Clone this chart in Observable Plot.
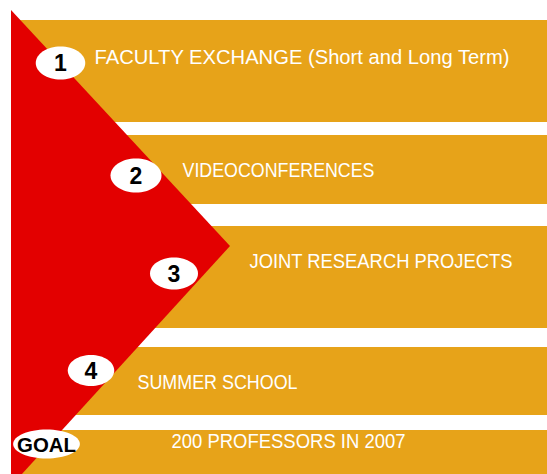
<!DOCTYPE html>
<html>
<head>
<meta charset="utf-8">
<script src="https://cdn.jsdelivr.net/npm/d3@7"></script>
<script src="https://cdn.jsdelivr.net/npm/@observablehq/plot@0.6"></script>
<style>
  html, body { margin: 0; padding: 0; background: #fff; }
  svg { display: block; }
</style>
</head>
<body>
<div id="chart"></div>
<script>
// ---- data ----
const steps = ["1", "2", "3", "4", "GOAL"];
const labels = [
  "FACULTY EXCHANGE (Short and Long Term)",
  "VIDEOCONFERENCES",
  "JOINT RESEARCH PROJECTS",
  "SUMMER SCHOOL",
  "200 PROFESSORS IN 2007"
];

// ---- layout (diagram coordinates, px) ----
const bandTop = [20, 135, 226, 347, 430];
const bandBottom = [122, 204, 328, 415, 474];
const triX = [11, 230, 11];
const triY = [10, 246, 486];
const badgeX = [60, 135.5, 173.5, 90.5, 46];
const badgeY = [62.5, 175, 273, 370, 443.5];
const badgeR = [16.5, 17, 16, 15.5, 14.5];
const labelX = [94, 182, 249, 137, 171];
const labelY = [63, 176, 267, 388, 447];
const labelW = [415, 192, 263, 160, 234];

const W = 547, H = 474;
const bands = bandTop.map((t, i) => ({t, b: bandBottom[i]}));
const tri = triX.map((x, i) => ({x, y: triY[i]}));
const badges = steps.map((s, i) => ({s, x: badgeX[i], y: badgeY[i], r: badgeR[i]}));
const texts = labels.map((s, i) => ({s, x: labelX[i], y: labelY[i]}));

const ellipse = (k) => ({
  draw(ctx, size) {
    const ry = Math.sqrt(size / Math.PI), rx = ry * k, c = 0.5523;
    ctx.moveTo(rx, 0);
    ctx.bezierCurveTo(rx, ry * c, rx * c, ry, 0, ry);
    ctx.bezierCurveTo(-rx * c, ry, -rx, ry * c, -rx, 0);
    ctx.bezierCurveTo(-rx, -ry * c, -rx * c, -ry, 0, -ry);
    ctx.bezierCurveTo(rx * c, -ry, rx, -ry * c, rx, 0);
    ctx.closePath();
  }
});

const font = "'Liberation Sans', Arial, sans-serif";

const plot = Plot.plot({
  width: W,
  height: H,
  margin: 0,
  x: {domain: [0, W], range: [0, W], axis: null},
  y: {domain: [0, H], range: [0, H], axis: null},
  r: {type: "identity"},
  style: {background: "#fff", fontFamily: font},
  marks: [
    Plot.rect(bands, {x1: 11, x2: W, y1: "t", y2: "b", fill: "#E7A319"}),
    Plot.areaX(tri, {x1: 11, x2: "x", y: "y", fill: "#E30000"}),
    Plot.dot(badges.slice(0, 4), {x: "x", y: "y", r: "r", symbol: ellipse(1.5), fill: "#fff", stroke: "none"}),
    Plot.dot(badges.slice(4), {x: "x", y: "y", r: "r", symbol: ellipse(2.3), fill: "#fff", stroke: "none"}),
    Plot.text(badges.slice(0, 4), {x: "x", y: "y", text: "s", fontSize: 23, fontWeight: "bold", fill: "#000", dy: 1}),
    Plot.text(badges.slice(4), {x: "x", y: "y", text: "s", fontSize: 21, fontWeight: "bold", fill: "#000", dy: 1}),
    Plot.text(texts, {x: "x", y: "y", text: "s", textAnchor: "start", lineAnchor: "bottom", fontSize: 20, fill: "#fff"})
  ]
});

document.getElementById("chart").appendChild(plot);

// fit label widths to the reference's condensed type
d3.select(plot).selectAll("text").each(function() {
  const i = labels.indexOf(this.textContent);
  if (i >= 0) {
    this.setAttribute("textLength", labelW[i]);
    this.setAttribute("lengthAdjust", "spacingAndGlyphs");
  }
  if (this.textContent === "GOAL") {
    this.setAttribute("textLength", 59);
    this.setAttribute("lengthAdjust", "spacingAndGlyphs");
  }
});
</script>
</body>
</html>
